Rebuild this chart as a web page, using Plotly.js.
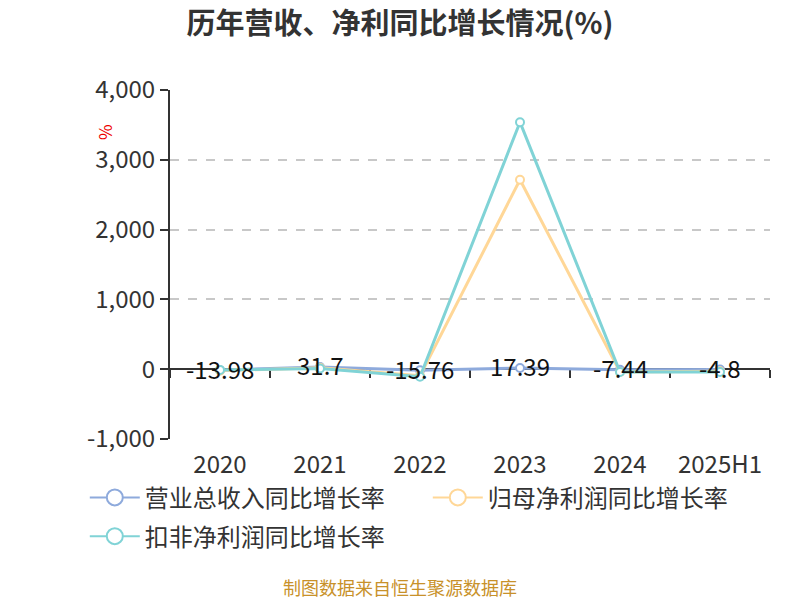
<!DOCTYPE html>
<html>
<head>
<meta charset="utf-8">
<script src="https://cdn.plot.ly/plotly-3.0.1.min.js"></script>
<style>
  html, body { margin: 0; padding: 0; background: #fff; }
  #chart { width: 800px; height: 600px; }
</style>
</head>
<body>
<div id="chart"></div>
<script>
const years = ['2020', '2021', '2022', '2023', '2024', '2025H1'];
const revenueGrowth = [-13.98, 31.7, -15.76, 17.39, -7.44, -4.8];
const parentProfitGrowth = [-20, 20, -95, 2714, -40, -30];
const deductedProfitGrowth = [-10, 10, -108, 3539, -40, -40];
const seriesNames = ['营业总收入同比增长率', '归母净利润同比增长率', '扣非净利润同比增长率'];
const seriesColors = ['#8eaadc', '#ffd797', '#80d3d6'];
const yTickValues = [-1000, 0, 1000, 2000, 3000, 4000];
const yTickLabels = ['-1,000', '0', '1,000', '2,000', '3,000', '4,000'];

const font = '"Noto Sans CJK SC", "Noto Sans", sans-serif';

function lineTrace(name, values, color) {
    return {
        type: 'scatter',
        mode: 'lines+markers',
        name: name,
        x: years,
        y: values,
        line: { color: color, width: 3 },
        marker: { size: 8, color: '#fff', line: { color: color, width: 2 } },
        showlegend: false,
        hoverinfo: 'x+y+name'
    };
}

// legend-only entries with a bigger open circle, they draw nothing in the plot
function legendTrace(name, color, legendId) {
    return {
        type: 'scatter',
        mode: 'lines+markers',
        name: name,
        x: [null],
        y: [null],
        line: { color: color, width: 2 },
        marker: { size: 16, color: '#fff', line: { color: color, width: 2 } },
        legend: legendId,
        hoverinfo: 'skip'
    };
}

const traces = [
    lineTrace(seriesNames[0], revenueGrowth, seriesColors[0]),
    lineTrace(seriesNames[1], parentProfitGrowth, seriesColors[1]),
    lineTrace(seriesNames[2], deductedProfitGrowth, seriesColors[2]),
    legendTrace(seriesNames[0], seriesColors[0], 'legend'),
    legendTrace(seriesNames[1], seriesColors[1], 'legend'),
    legendTrace(seriesNames[2], seriesColors[2], 'legend2'),
    // dummy trace so the zero-line axis with boundary ticks is drawn
    { type: 'scatter', mode: 'none', x: [0], y: [0], xaxis: 'x2', showlegend: false, hoverinfo: 'skip' }
];

// value labels of the revenue series, on top of all lines
// (category index as x, since '2020' alone would be read as a position)
const valueLabels = years.map((yr, i) => ({
    x: i,
    y: revenueGrowth[i],
    xref: 'x', yref: 'y',
    text: String(revenueGrowth[i]),
    showarrow: false,
    xanchor: 'center', yanchor: 'middle',
    yshift: 2,
    font: { family: font, size: 24, color: '#111' }
}));

const legendCommon = {
    orientation: 'h',
    xanchor: 'left',
    yanchor: 'top',
    entrywidth: 278,
    itemwidth: 50,
    font: { family: font, size: 24, color: '#333' },
    itemsizing: 'trace',
    bgcolor: 'rgba(0,0,0,0)'
};

const layout = {
    width: 800,
    height: 600,
    margin: { l: 170, r: 30, t: 90, b: 161 },
    paper_bgcolor: '#fff',
    plot_bgcolor: '#fff',
    font: { family: font, color: '#333' },
    showlegend: true,
    title: {
        text: '<b>历年营收、净利同比增长情况(%)</b>',
        x: 0.5,
        xanchor: 'center',
        y: 0.96,
        yanchor: 'middle',
        font: { family: font, size: 29, color: '#333' }
    },
    xaxis: {
        type: 'category',
        range: [-0.5, 5.5],
        showline: false,
        showgrid: false,
        zeroline: false,
        ticks: 'outside',
        ticklen: 4,
        tickcolor: 'rgba(0,0,0,0)',
        tickfont: { family: font, size: 24, color: '#333' },
        fixedrange: true
    },
    xaxis2: {
        overlaying: 'x',
        anchor: 'free',
        position: 0.2,
        type: 'linear',
        range: [-0.5, 5.5],
        tick0: 0.5,
        dtick: 1,
        layer: 'below traces',
        showline: true,
        linecolor: '#333',
        linewidth: 2,
        ticks: 'outside',
        ticklen: 8,
        tickwidth: 2,
        tickcolor: '#333',
        showticklabels: false,
        showgrid: false,
        zeroline: false
    },
    yaxis: {
        range: [-1000, 4000],
        tickvals: yTickValues,
        ticktext: yTickLabels,
        showline: true,
        linecolor: '#333',
        linewidth: 2,
        ticks: 'outside',
        ticklen: 8,
        tickwidth: 2,
        tickcolor: '#333',
        tickfont: { family: font, size: 24, color: '#333' },
        showgrid: true,
        gridcolor: '#c8c8c8',
        gridwidth: 1.5,
        griddash: 'dash',
        zeroline: false,
        fixedrange: true
    },
    legend: Object.assign({ x: -0.142, y: -0.104 }, legendCommon),
    legend2: Object.assign({ x: -0.142, y: -0.215 }, legendCommon),
    annotations: valueLabels.concat([
        {
            text: '%',
            xref: 'paper', yref: 'paper',
            x: -0.108, y: 0.88,
            xanchor: 'center', yanchor: 'middle',
            showarrow: false,
            textangle: -90,
            font: { family: font, size: 17, color: '#e00' }
        },
        {
            text: '制图数据来自恒生聚源数据库',
            xref: 'paper', yref: 'paper',
            x: 0.383, y: -0.425,
            xanchor: 'center', yanchor: 'middle',
            showarrow: false,
            font: { family: font, size: 18, color: '#c8912a' }
        }
    ])
};

Plotly.newPlot('chart', traces, layout, { displayModeBar: false, responsive: false });
</script>
</body>
</html>
